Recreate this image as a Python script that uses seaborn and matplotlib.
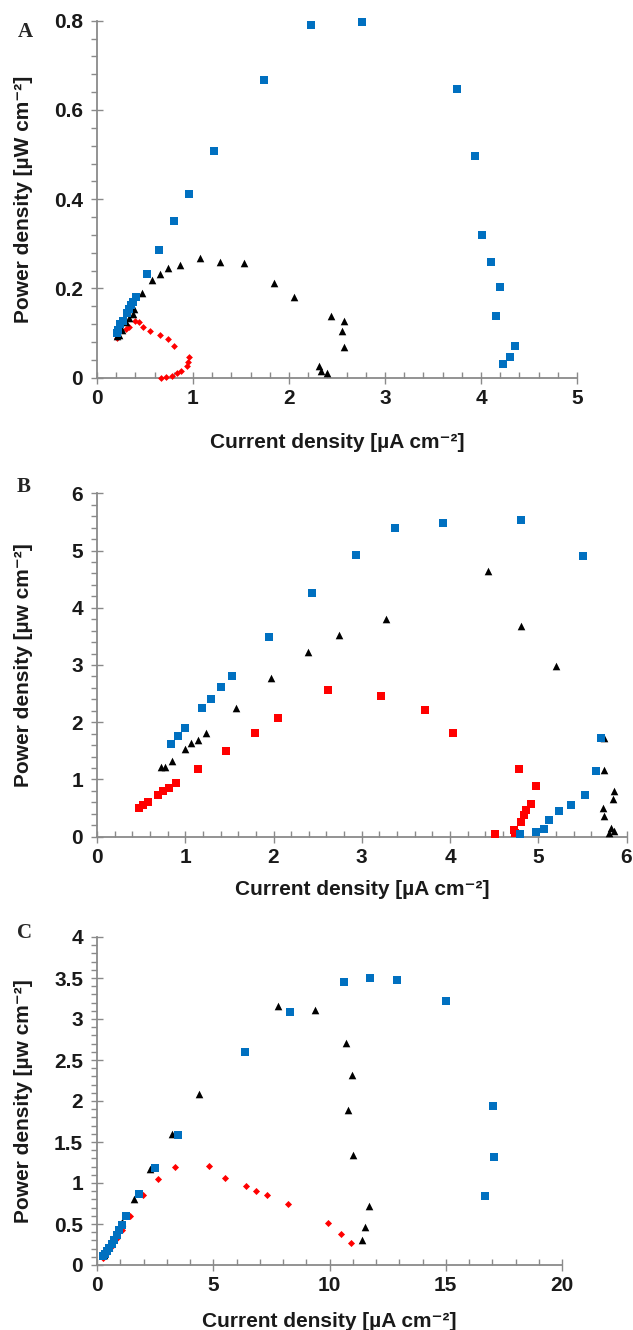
import numpy as np
import pandas as pd
import seaborn as sns
import matplotlib
matplotlib.use('Agg')
import matplotlib.pyplot as plt
from matplotlib.ticker import MultipleLocator

# panel A
a_blue_x = [0.21, 0.22, 0.24, 0.27, 0.31, 0.33, 0.35, 0.38, 0.41, 0.52, 0.65, 0.80, 0.96, 1.22, 1.74,
            2.23, 2.76, 3.75, 3.94, 4.01, 4.10, 4.20, 4.16, 4.35, 4.30, 4.23]
a_blue_y = [0.100, 0.107, 0.120, 0.126, 0.144, 0.153, 0.163, 0.170, 0.180, 0.232, 0.286, 0.351, 0.411,
            0.507, 0.666, 0.790, 0.796, 0.648, 0.496, 0.320, 0.259, 0.204, 0.139, 0.071, 0.047, 0.030]
a_black_x = [0.21, 0.23, 0.26, 0.30, 0.33, 0.37, 0.39, 0.47, 0.57, 0.66, 0.74, 0.86, 1.07, 1.28, 1.53,
             1.84, 2.05, 2.44, 2.57, 2.55, 2.57, 2.31, 2.33, 2.40]
a_black_y = [0.093, 0.096, 0.107, 0.125, 0.133, 0.142, 0.153, 0.189, 0.218, 0.233, 0.246, 0.253, 0.268,
             0.260, 0.257, 0.213, 0.181, 0.139, 0.127, 0.105, 0.068, 0.027, 0.016, 0.010]
a_red_x = [0.21, 0.30, 0.33, 0.40, 0.44, 0.48, 0.55, 0.66, 0.74, 0.80, 0.96, 0.95, 0.94, 0.88, 0.83,
           0.78, 0.72, 0.67]
a_red_y = [0.088, 0.110, 0.113, 0.126, 0.124, 0.113, 0.105, 0.096, 0.086, 0.070, 0.046, 0.036, 0.027,
           0.016, 0.010, 0.004, 0.001, 0.000]

# panel B
b_blue_x = [0.84, 0.92, 1.00, 1.19, 1.29, 1.41, 1.53, 1.95, 2.44, 2.93, 3.38, 3.92, 4.81, 5.51, 5.71,
            5.65, 5.53, 5.37, 5.24, 5.12, 5.06, 4.97, 4.79]
b_blue_y = [1.62, 1.76, 1.90, 2.24, 2.41, 2.62, 2.81, 3.49, 4.25, 4.92, 5.40, 5.48, 5.53, 4.90, 1.73,
            1.14, 0.73, 0.56, 0.45, 0.29, 0.13, 0.08, 0.04]
b_black_x = [0.73, 0.77, 0.85, 1.00, 1.07, 1.15, 1.24, 1.58, 1.97, 2.39, 2.74, 3.28, 4.43, 4.80, 5.20,
             5.75, 5.74, 5.73, 5.75, 5.86, 5.85, 5.82, 5.80, 5.86]
b_black_y = [1.21, 1.22, 1.33, 1.53, 1.63, 1.69, 1.82, 2.24, 2.77, 3.22, 3.53, 3.80, 4.65, 3.68, 2.98,
             1.72, 1.16, 0.51, 0.36, 0.80, 0.65, 0.16, 0.07, 0.10]
b_red_x = [0.48, 0.52, 0.58, 0.69, 0.75, 0.82, 0.90, 1.15, 1.46, 1.79, 2.05, 2.62, 3.22, 3.72, 4.03,
           4.78, 4.98, 4.92, 4.86, 4.84, 4.80, 4.72, 4.74, 4.51]
b_red_y = [0.50, 0.55, 0.61, 0.73, 0.79, 0.85, 0.94, 1.19, 1.49, 1.82, 2.08, 2.56, 2.46, 2.21, 1.82,
           1.19, 0.89, 0.58, 0.47, 0.38, 0.26, 0.12, 0.07, 0.04]

# panel C
c_blue_x = [0.27, 0.34, 0.42, 0.53, 0.63, 0.73, 0.85, 0.96, 1.06, 1.24, 1.79, 2.49, 3.48, 6.35, 8.30,
            10.64, 11.76, 12.89, 15.00, 17.04, 17.08, 16.70]
c_blue_y = [0.11, 0.13, 0.17, 0.21, 0.26, 0.31, 0.37, 0.43, 0.49, 0.60, 0.86, 1.18, 1.58, 2.60, 3.09,
            3.45, 3.50, 3.47, 3.22, 1.94, 1.32, 0.84]
c_black_x = [0.30, 0.50, 0.75, 1.08, 1.58, 2.30, 3.22, 4.38, 7.79, 9.36, 10.70, 10.96, 10.78, 10.99,
             11.70, 11.53, 11.39]
c_black_y = [0.12, 0.22, 0.35, 0.52, 0.81, 1.17, 1.60, 2.09, 3.16, 3.11, 2.71, 2.32, 1.89, 1.34,
             0.72, 0.46, 0.30]
c_red_x = [0.27, 0.43, 0.63, 0.85, 1.06, 1.40, 1.97, 2.62, 3.36, 4.83, 5.51, 6.43, 6.83, 7.30, 8.23,
           9.95, 10.49, 10.92]
c_red_y = [0.08, 0.15, 0.23, 0.33, 0.43, 0.60, 0.85, 1.05, 1.19, 1.21, 1.06, 0.96, 0.90, 0.85, 0.75,
           0.51, 0.38, 0.27]

x_label = 'Current density [µA cm⁻²]'
y_labels = ['Power density [µW cm⁻²]', 'Power density [µw cm⁻²]', 'Power density [µw cm⁻²]']

sns.set_theme(style='white')
plt.rcParams['font.family'] = ['Liberation Sans', 'DejaVu Sans']

BLUE = '#0070C0'
RED = '#FF0000'
GREY = '#8a8a8a'

fig = plt.figure(figsize=(6.33, 13.3), dpi=100)

# [left, bottom, width, height] in figure fractions
rects = [
    [97 / 633, (1330 - 377.7) / 1330, 480 / 633, 357 / 1330],
    [97 / 633, (1330 - 836.7) / 1330, 529.5 / 633, 343.4 / 1330],
    [97 / 633, (1330 - 1265) / 1330, 465 / 633, 328 / 1330],
]

panels = [
    dict(red=(a_red_x, a_red_y, 'D', 12), black=(a_black_x, a_black_y), blue=(a_blue_x, a_blue_y, 30),
         xlim=5, ylim=0.8, xmaj=1, xmin=0.2, ymaj=0.2, ymin=0.04),
    dict(red=(b_red_x, b_red_y, 's', 34), black=(b_black_x, b_black_y), blue=(b_blue_x, b_blue_y, 34),
         xlim=6, ylim=6, xmaj=1, xmin=0.2, ymaj=1, ymin=0.2),
    dict(red=(c_red_x, c_red_y, 'D', 13), black=(c_black_x, c_black_y), blue=(c_blue_x, c_blue_y, 32),
         xlim=20, ylim=4, xmaj=5, xmin=1, ymaj=0.5, ymin=0.1),
]

letters = ['A', 'B', 'C']
letter_pos = [(25, 32), (24, 487), (24, 933)]
xlabel_off = [55, 43, 47]

for i, p in enumerate(panels):
    ax = fig.add_axes(rects[i])
    rx, ry, rm, rs = p['red']
    sns.scatterplot(x=rx, y=ry, marker=rm, s=rs, color=RED, linewidth=0, ax=ax, zorder=3, clip_on=False)
    kx, ky = p['black']
    sns.scatterplot(x=kx, y=ky, marker='^', s=30, color='black', linewidth=0, ax=ax, zorder=4, clip_on=False)
    bx, by, bs = p['blue']
    sns.scatterplot(x=bx, y=by, marker='s', s=bs, color=BLUE, linewidth=0, ax=ax, zorder=5, clip_on=False)

    ax.set_xlim(0, p['xlim'])
    ax.set_ylim(0, p['ylim'])
    ax.xaxis.set_major_locator(MultipleLocator(p['xmaj']))
    ax.xaxis.set_minor_locator(MultipleLocator(p['xmin']))
    ax.yaxis.set_major_locator(MultipleLocator(p['ymaj']))
    ax.yaxis.set_minor_locator(MultipleLocator(p['ymin']))
    ax.yaxis.set_major_formatter(plt.FuncFormatter(lambda v, pos: f'{v:g}'))
    ax.xaxis.set_major_formatter(plt.FuncFormatter(lambda v, pos: f'{v:g}'))

    for s in ['top', 'right']:
        ax.spines[s].set_visible(False)
    for s in ['left', 'bottom']:
        ax.spines[s].set_color(GREY)
        ax.spines[s].set_linewidth(1.3)

    ax.tick_params(axis='x', which='major', direction='inout', length=8, width=1, color=GREY,
                   pad=4, labelsize=15, bottom=True)
    ax.tick_params(axis='x', which='minor', direction='in', length=4, width=1, color=GREY, bottom=True)
    ax.tick_params(axis='y', which='major', direction='inout', length=8, width=1, color=GREY,
                   pad=6, labelsize=15, left=True)
    ax.tick_params(axis='y', which='minor', direction='out', length=4, width=1, color=GREY, left=True)
    for lab in ax.get_xticklabels() + ax.get_yticklabels():
        lab.set_fontweight('bold')
        lab.set_color('#1a1a1a')

    ax.set_xlabel(x_label, fontsize=15, fontweight='bold', color='#1a1a1a')
    ax.set_ylabel(y_labels[i], fontsize=15, fontweight='bold', color='#1a1a1a')
    h_px = rects[i][3] * 1330
    w_px = rects[i][2] * 633
    ax.xaxis.set_label_coords(0.5, -xlabel_off[i] / h_px)
    ax.yaxis.set_label_coords(-(97 - 33) / w_px, 0.5)
    ax.set_facecolor('white')

    lx, ly = letter_pos[i]
    fig.text(lx / 633, 1 - ly / 1330, letters[i], ha='center', va='center', fontsize=15,
             fontweight='bold', family=['Liberation Serif', 'DejaVu Serif'])

fig.savefig('out.png', dpi=100, facecolor='white')
